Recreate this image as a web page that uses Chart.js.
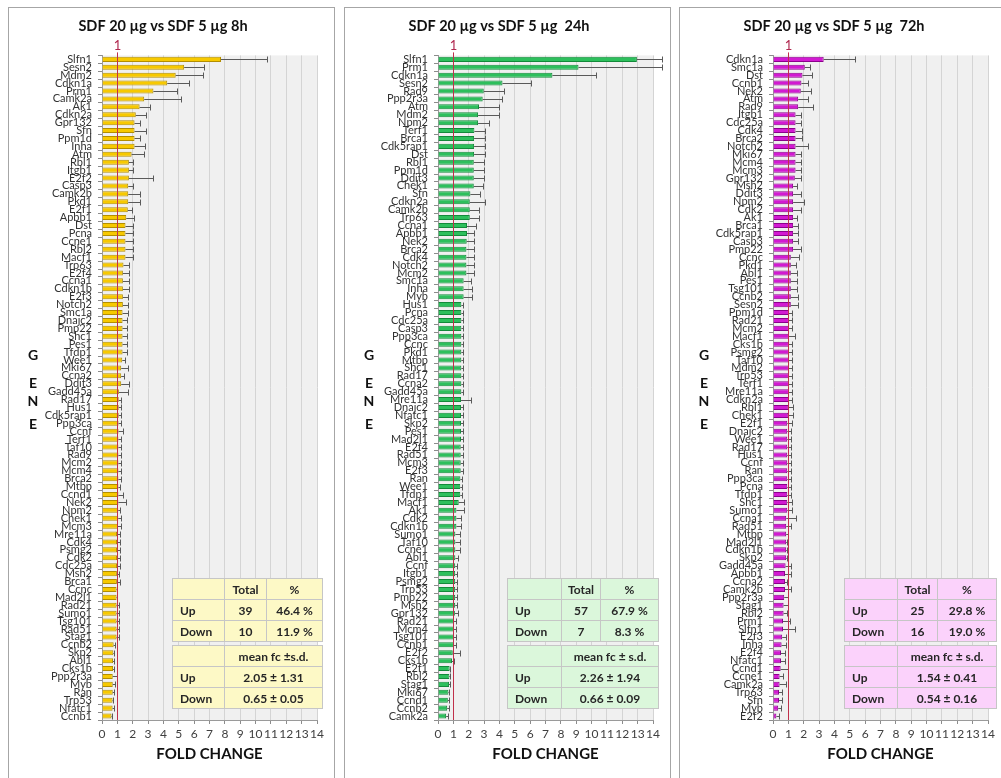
<!DOCTYPE html>
<html>
<head>
<meta charset="utf-8">
<script src="https://cdn.jsdelivr.net/npm/chart.js@4.4.0/dist/chart.umd.min.js"></script>
<style>
body { margin:0; background:#fff; width:1001px; height:778px; overflow:hidden; position:relative; font-family: Lato, sans-serif; }
.panel { position:absolute; top:7px; width:327px; height:780px; border:1px solid #a6a6a6; box-sizing:border-box; background:#fff; }
.panel canvas { position:absolute; left:0; top:0; }
.stats { position:absolute; top:570px; }
.stats table { border-collapse:collapse; font:bold 12px Lato, sans-serif; color:#262626; }
.stats td { border:1px solid #c6c6c6; height:20px; text-align:center; padding:0; }
.stats td.h { text-align:left; padding-left:7px; }
.stats table + table { margin-top:3px; }
</style>
</head>
<body>
<div class="panel" id="p1" style="left:8px"><canvas id="c1" width="325" height="773"></canvas></div>
<div class="panel" id="p2" style="left:344px"><canvas id="c2" width="325" height="773"></canvas></div>
<div class="panel" id="p3" style="left:679px"><canvas id="c3" width="325" height="773"></canvas></div>
<script>
// 8h
const genes8h = ['Slfn1','Sesn2','Mdm2','Cdkn1a','Prm1','Camk2a','Ak1','Cdkn2a','Gpr132','Sfn','Ppm1d','Inha','Atm','Rbl1','Itgb1','E2f2','Casp3','Camk2b','Pkd1','E2f1','Apbb1','Dst','Pcna','Ccne1','Rbl2','Macf1','Trp63','E2f4','Ccna1','Cdkn1b','E2f3','Notch2','Smc1a','Dnajc2','Pmp22','Shc1','Pes1','Tfdp1','Wee1','Mki67','Ccna2','Ddit3','Gadd45a','Rad17','Hus1','Cdk5rap1','Ppp3ca','Ccnf','Terf1','Taf10','Rad9','Mcm2','Mcm4','Brca2','Mtbp','Ccnd1','Nek2','Npm2','Chek1','Mcm3','Mre11a','Cdk4','Psmg2','Cdk2','Cdc25a','Msh2','Brca1','Ccnc','Mad2l1','Rad21','Sumo1','Tsg101','Rad51','Stag1','Ccnb2','Skp2','Abl1','Cks1b','Ppp2r3a','Myb','Ran','Trp53','Nfatc1','Ccnb1']
const fc8h = [7.75,5.35,4.8,4.25,3.35,2.75,2.45,2.2,2.12,2.12,2.12,2.12,1.93,1.75,1.75,1.75,1.71,1.71,1.71,1.68,1.58,1.53,1.53,1.53,1.53,1.53,1.4,1.36,1.36,1.36,1.36,1.36,1.34,1.34,1.34,1.34,1.34,1.34,1.32,1.25,1.25,1.25,1.1,1.09,1.09,1.09,1.08,1.08,1.07,1.07,1.07,1.07,1.07,1.07,1.07,1.07,1.07,1.06,1.06,1.04,0.98,0.98,0.98,0.98,0.98,0.97,0.97,0.95,0.95,0.95,0.95,0.95,0.95,0.95,0.76,0.74,0.72,0.72,0.7,0.7,0.7,0.69,0.69,0.62]
const sd8h = [3.0,1.28,1.8,1.4,1.55,2.4,0.65,0.65,0.33,0.72,0.33,0.68,0.8,0.26,0.26,1.6,0.3,0.78,0.78,0.26,0.52,0.48,0.48,0.52,0.48,0.52,0.35,0.37,0.37,0.37,0.33,0.33,0.33,0.3,0.3,0.3,0.3,0.3,0.2,0.45,0.2,0.5,0.6,0.15,0.15,0.15,0.15,0.3,0.15,0.15,0.15,0.15,0.15,0.15,0.12,0.3,0.5,0.12,0.15,0.18,0.22,0.22,0.18,0.18,0.18,0.15,0.2,0.05,0.05,0.15,0.15,0.15,0.15,0.15,0.06,0.05,0.05,0.05,0.3,0.15,0.05,0.05,0.12,0.04]

// 24h
const genes24h = ['Slfn1','Prm1','Cdkn1a','Sesn2','Rad9','Ppp2r3a','Atm','Mdm2','Npm2','Terf1','Brca1','Cdk5rap1','Dst','Rbl1','Ppm1d','Ddit3','Chek1','Sfn','Cdkn2a','Camk2b','Trp63','Ccna1','Apbb1','Nek2','Brca2','Cdk4','Notch2','Mcm2','Smc1a','Inha','Myb','Hus1','Pcna','Cdc25a','Casp3','Ppp3ca','Ccnc','Pkd1','Mtbp','Shc1','Rad17','Ccna2','Gadd45a','Mre11a','Dnajc2','Nfatc1','Skp2','Pes1','Mad2l1','E2f4','Rad51','Mcm3','E2f3','Ran','Wee1','Tfdp1','Macf1','Ak1','Cdk2','Cdkn1b','Sumo1','Taf10','Ccne1','Abl1','Ccnf','Itgb1','Psmg2','Trp53','Pmp22','Msh2','Gpr132','Rad21','Mcm4','Tsg101','Ccnb1','E2f2','Cks1b','E2f1','Rbl2','Stag1','Mki67','Ccnd1','Ccnb2','Camk2a']
const fc24h = [12.95,9.15,7.45,4.2,2.98,2.91,2.67,2.61,2.61,2.37,2.35,2.35,2.35,2.33,2.33,2.33,2.33,2.11,2.07,2.07,2.07,1.89,1.89,1.87,1.85,1.85,1.85,1.85,1.67,1.67,1.67,1.52,1.52,1.52,1.52,1.52,1.52,1.52,1.52,1.52,1.52,1.52,1.52,1.5,1.5,1.5,1.5,1.5,1.5,1.48,1.48,1.48,1.48,1.46,1.45,1.45,1.35,1.2,1.2,1.2,1.13,1.13,1.13,1.13,1.12,1.12,1.12,1.12,1.12,1.12,1.1,1.04,1.04,1.04,1.04,0.96,0.91,0.76,0.74,0.72,0.68,0.64,0.6,0.53]
const sd24h = [1.65,5.45,2.85,1.87,1.3,1.28,1.3,1.37,0.74,0.67,0.69,0.69,0.69,0.69,0.69,0.69,0.63,0.6,0.98,0.6,0.6,0.6,0.48,0.5,0.5,0.5,0.48,0.48,0.48,0.56,0.56,0.12,0.12,0.12,0.12,0.12,0.12,0.12,0.12,0.12,0.12,0.12,0.12,0.65,0.12,0.12,0.12,0.12,0.12,0.12,0.12,0.12,0.12,0.12,0.12,0.12,0.33,0.48,0.33,0.33,0.28,0.28,0.28,0.15,0.12,0.12,0.12,0.12,0.12,0.12,0.2,0.1,0.12,0.1,0.1,0.5,0.1,0.05,0.05,0.05,0.06,0.08,0.1,0.12]

// 72h
const genes72h = ['Cdkn1a','Smc1a','Dst','Ccnb1','Nek2','Atm','Rad9','Itgb1','Cdc25a','Cdk4','Brca2','Notch2','Mki67','Mcm4','Mcm3','Gpr132','Msh2','Ddit3','Npm2','Cdk2','Ak1','Brca1','Cdk5rap1','Casp3','Pmp22','Ccnc','Pkd1','Abl1','Pes1','Tsg101','Ccnb2','Sesn2','Ppm1d','Rad21','Mcm2','Macf1','Cks1b','Psmg2','Taf10','Mdm2','Trp53','Terf1','Mre11a','Cdkn2a','Rbl1','Chek1','E2f1','Dnajc2','Wee1','Rad17','Hus1','Ccnf','Ran','Ppp3ca','Pcna','Tfdp1','Shc1','Sumo1','Ccna1','Rad51','Mtbp','Mad2l1','Cdkn1b','Skp2','Gadd45a','Apbb1','Ccna2','Camk2b','Ppp2r3a','Stag1','Rbl2','Prm1','Slfn1','E2f3','Inha','E2f4','Nfatc1','Ccnd1','Ccne1','Camk2a','Trp63','Sfn','Myb','E2f2']
const fc72h = [3.3,2.07,1.92,1.85,1.81,1.64,1.64,1.47,1.47,1.47,1.47,1.47,1.47,1.47,1.47,1.42,1.31,1.31,1.31,1.31,1.31,1.31,1.31,1.31,1.31,1.16,1.16,1.16,1.16,1.16,1.16,1.16,1.04,1.04,1.04,1.04,1.04,1.04,1.04,1.04,1.04,1.04,1.04,1.04,1.0,1.0,0.93,0.93,0.93,0.93,0.93,0.93,0.93,0.93,0.93,0.93,0.93,0.93,0.86,0.86,0.86,0.86,0.86,0.86,0.82,0.78,0.78,0.78,0.73,0.69,0.69,0.65,0.65,0.6,0.56,0.52,0.52,0.5,0.43,0.43,0.39,0.39,0.34,0.22]
const sd72h = [2.05,0.32,0.62,0.41,0.65,0.62,0.97,0.35,0.35,0.43,0.43,0.8,0.35,0.35,0.35,0.4,0.26,0.5,0.7,0.5,0.26,0.32,0.32,0.32,0.5,0.52,0.35,0.43,0.43,0.41,0.48,0.48,0.22,0.22,0.22,0.39,0.22,0.22,0.22,0.22,0.22,0.22,0.22,0.22,0.3,0.3,0.28,0.22,0.22,0.22,0.22,0.22,0.22,0.22,0.22,0.22,0.3,0.3,0.67,0.3,0.1,0.08,0.08,0.08,0.32,0.4,0.15,0.42,0.26,0.26,0.25,0.45,0.78,0.26,0.3,0.26,0.26,0.45,0.22,0.4,0.22,0.22,0.15,0.17]

// summary tables: [count, percent]
const up8h = ['39', '46.4 %'], down8h = ['10', '11.9 %'], mean8h = ['2.05 ± 1.31', '0.65 ± 0.05']
const up24h = ['57', '67.9 %'], down24h = ['7', '8.3 %'], mean24h = ['2.26 ± 1.94', '0.66 ± 0.09']
const up72h = ['25', '29.8 %'], down72h = ['16', '19.0 %'], mean72h = ['1.54 ± 0.41', '0.54 ± 0.16']

const geneLetters = ['G', 'E', 'N', 'E']
const geneLetterY = [347, 375, 393, 416]

const panelDeco = {
    id: 'panelDeco',
    beforeDraw(chart) {
        const {ctx, chartArea: a} = chart
        ctx.save()
        ctx.fillStyle = '#f0f0f0'
        ctx.fillRect(a.left, a.top, a.right - a.left, a.bottom - a.top)
        ctx.restore()
    },
    afterDatasetsDraw(chart) {
        const {ctx, chartArea: a} = chart
        const xs = chart.scales.x
        const ds = chart.data.datasets[0]
        const meta = chart.getDatasetMeta(0)
        ctx.save()
        // error bars (one-sided, up)
        ctx.strokeStyle = '#5a5a5a'
        ctx.lineWidth = 1
        meta.data.forEach((bar, i) => {
            const x1 = Math.round(xs.getPixelForValue(ds.data[i] + ds.errors[i])) + 0.5
            const y = Math.round(bar.y) + 0.5
            ctx.beginPath()
            ctx.moveTo(bar.x, y)
            ctx.lineTo(x1, y)
            ctx.moveTo(x1, y - 3)
            ctx.lineTo(x1, y + 3)
            ctx.stroke()
        })
        // reference line at fold change 1
        const x1 = Math.round(xs.getPixelForValue(1)) + 0.5
        ctx.strokeStyle = '#c0304a'
        ctx.beginPath()
        ctx.moveTo(x1, a.top - 3)
        ctx.lineTo(x1, a.bottom)
        ctx.stroke()
        ctx.fillStyle = '#b0284f'
        ctx.font = '13px Lato'
        ctx.textAlign = 'center'
        ctx.textBaseline = 'middle'
        ctx.fillText('1', x1, 38)
        ctx.restore()
    },
    afterDraw(chart) {
        const ctx = chart.ctx
        ctx.save()
        ctx.fillStyle = '#111'
        ctx.font = 'bold 14px Lato'
        ctx.textAlign = 'center'
        ctx.textBaseline = 'middle'
        geneLetters.forEach((l, i) => ctx.fillText(l, 24, geneLetterY[i]))
        ctx.restore()
    }
}

function makeChart(id, title, genes, fc, sd, fill, edge) {
    return new Chart(document.getElementById(id), {
        type: 'bar',
        data: {
            labels: genes,
            datasets: [{
                data: fc,
                errors: sd,
                backgroundColor: fill,
                borderColor: edge,
                borderWidth: 1,
                barPercentage: 0.75,
                categoryPercentage: 0.85
            }]
        },
        options: {
            indexAxis: 'y',
            responsive: false,
            animation: false,
            layout: {padding: {right: 17}},
            plugins: {
                legend: {display: false},
                tooltip: {enabled: false},
                title: {
                    display: true, text: title, color: '#111',
                    font: {family: 'Lato', size: 14.5, weight: 'bold'},
                    padding: {top: 10, bottom: 20}
                }
            },
            scales: {
                x: {
                    min: 0, max: 14,
                    ticks: {stepSize: 1, autoSkip: false, maxRotation: 0, minRotation: 0,
                        color: '#404040', font: {family: 'Lato', size: 12}, padding: 3},
                    grid: {color: '#d4d4d4', tickColor: '#8c8c8c', tickLength: 4},
                    border: {color: '#9a9a9a'},
                    title: {
                        display: true, text: 'FOLD CHANGE', color: '#111',
                        font: {family: 'Lato', size: 15, weight: 'bold'},
                        padding: {top: 0, bottom: 18}
                    },
                    afterFit: (s) => { s.height = 61 }
                },
                y: {
                    ticks: {autoSkip: false, color: '#333', font: {family: 'Lato', size: 11}, padding: 6},
                    grid: {drawOnChartArea: false, tickColor: '#8c8c8c', tickLength: 4},
                    border: {color: '#9a9a9a'},
                    afterFit: (s) => { s.width = 93 }
                }
            }
        },
        plugins: [panelDeco]
    })
}

function makeTable(panelId, left, widths, bg, up, down, mean, meanHead) {
    const box = document.createElement('div')
    box.className = 'stats'
    box.style.left = left + 'px'
    const w = widths.map(v => 'style="width:' + v + 'px;background:' + bg + '"')
    const c = 'style="background:' + bg + '"'
    box.innerHTML =
        '<table>' +
        '<tr><td ' + w[0] + '></td><td ' + w[1] + '>Total</td><td ' + w[2] + '>%</td></tr>' +
        '<tr><td class="h" ' + c + '>Up</td><td ' + c + '>' + up[0] + '</td><td ' + c + '>' + up[1] + '</td></tr>' +
        '<tr><td class="h" ' + c + '>Down</td><td ' + c + '>' + down[0] + '</td><td ' + c + '>' + down[1] + '</td></tr>' +
        '</table><table>' +
        '<tr><td ' + w[0] + '></td><td ' + 'style="width:' + (widths[1] + widths[2] + 1) + 'px;background:' + bg + '">' + meanHead + '</td></tr>' +
        '<tr><td class="h" ' + c + '>Up</td><td ' + c + '>' + mean[0] + '</td></tr>' +
        '<tr><td class="h" ' + c + '>Down</td><td ' + c + '>' + mean[1] + '</td></tr>' +
        '</table>'
    document.getElementById(panelId).appendChild(box)
}

makeChart('c1', 'SDF 20 µg vs SDF 5 µg 8h', genes8h, fc8h, sd8h, '#f7c900', '#b38e00')
makeChart('c2', 'SDF 20 µg vs SDF 5 µg  24h', genes24h, fc24h, sd24h, '#2dbf5c', '#138a3a')
makeChart('c3', 'SDF 20 µg vs SDF 5 µg  72h', genes72h, fc72h, sd72h, '#d21ad2', '#8c008c')

makeTable('p1', 163, [51, 41, 55], '#fdf9c6', up8h, down8h, mean8h, 'mean fc ±s.d.')
makeTable('p2', 162, [53, 38, 57], '#dbf7db', up24h, down24h, mean24h, 'mean fc ± s.d.')
makeTable('p3', 164, [52, 39, 58], '#fbd2fb', up72h, down72h, mean72h, 'mean fc ± s.d.')
</script>
</body>
</html>
